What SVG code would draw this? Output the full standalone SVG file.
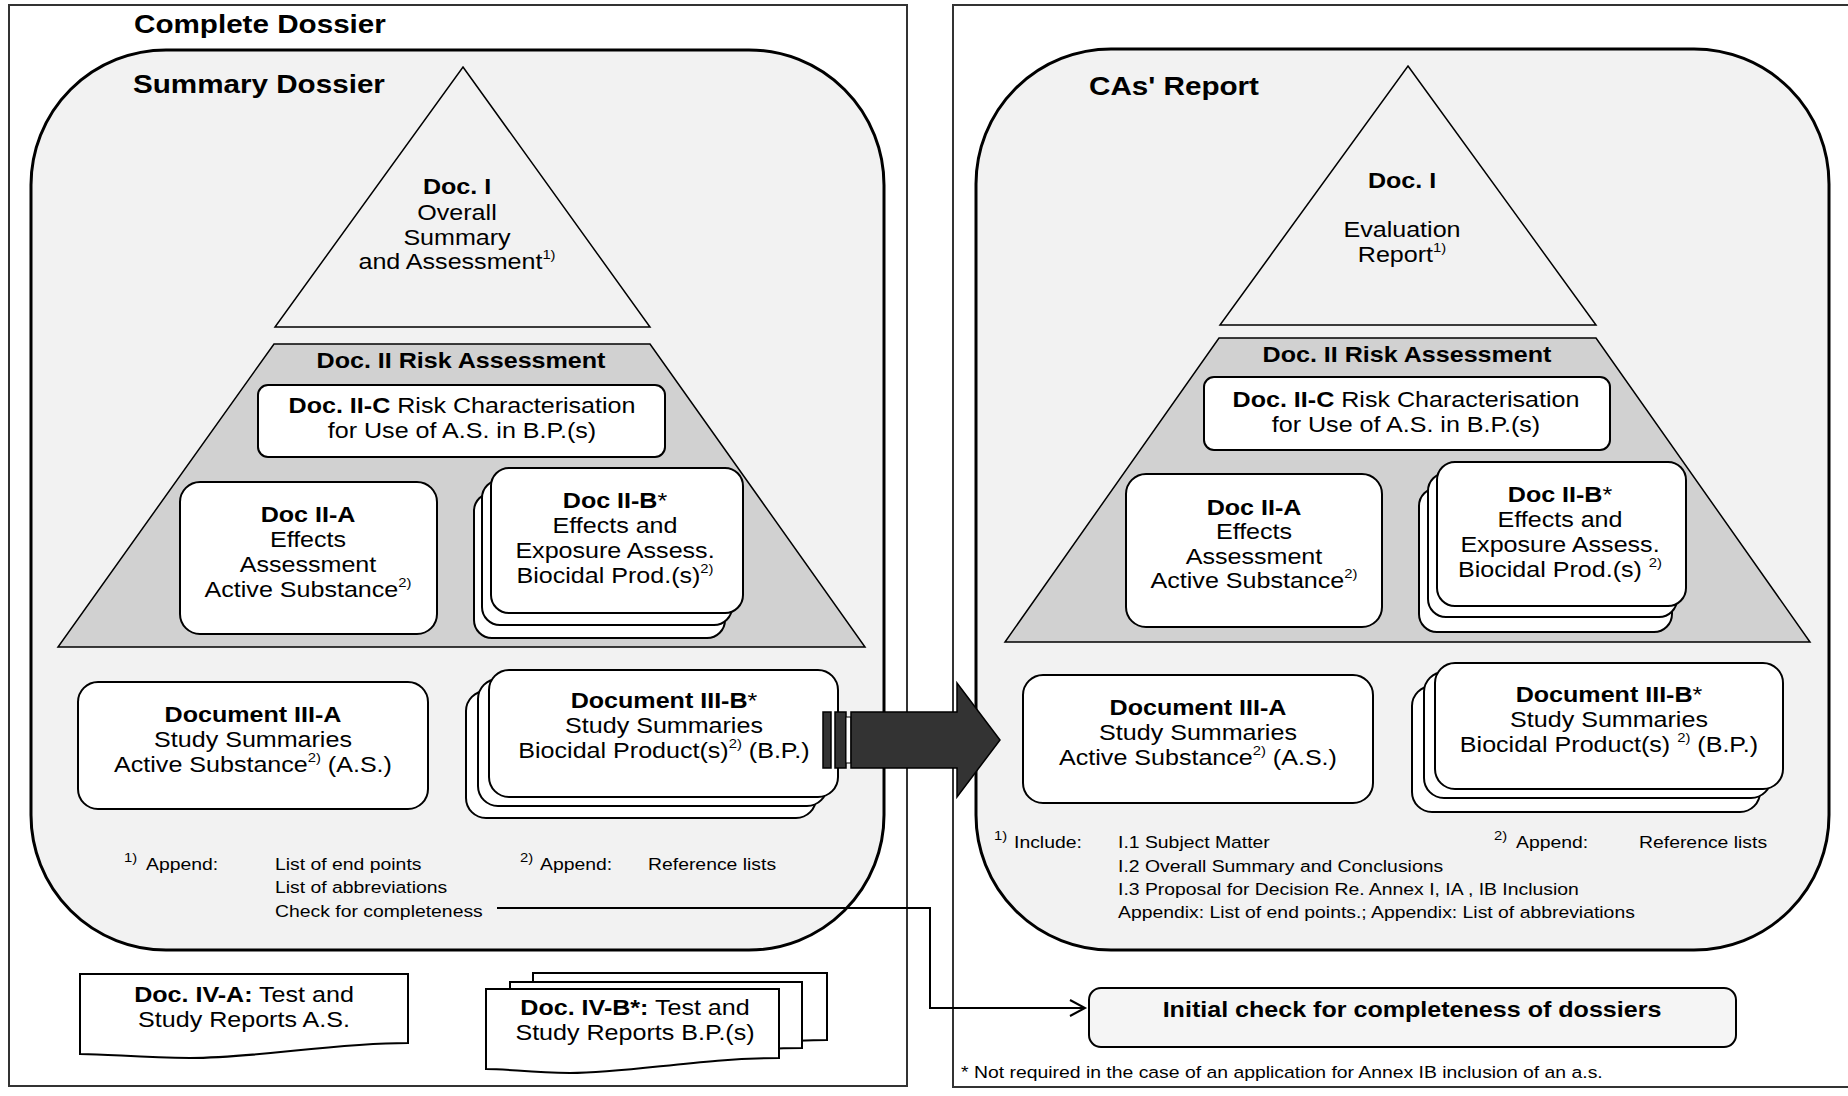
<svg xmlns="http://www.w3.org/2000/svg" width="1848" height="1096" viewBox="0 0 1848 1096">
<style>
.t{font-family:"Liberation Sans",Arial,Helvetica,sans-serif;font-size:22px;fill:#000}
.c{text-anchor:middle}
.b{font-weight:bold}
.h{font-size:26px;font-weight:bold}
.s{font-size:17px}
.sp{font-size:13px}
.sps{font-size:11px}
.outer{fill:#fff;stroke:#333;stroke-width:2}
.panel{fill:#f2f2f2;stroke:#000;stroke-width:3}
.tri{fill:#f2f2f2;stroke:#000;stroke-width:1.5}
.trap{fill:#d1d1d1;stroke:#000;stroke-width:1.5}
.box{fill:#fff;stroke:#000;stroke-width:2}
.doc{fill:#fff;stroke:#000;stroke-width:2}
.line{fill:none;stroke:#000;stroke-width:2}
.arr{fill:#333;stroke:#000;stroke-width:1.5}
</style>

<!-- Left: Complete Dossier -->
<g id="complete-dossier">
  <rect class="outer" x="9" y="5" width="898" height="1081"/>
  <text class="t h" transform="translate(134,33) scale(1.14,1)">Complete Dossier</text>
</g>
<g id="summary-dossier">
  <rect class="panel" x="31" y="50" width="853" height="900" rx="135" ry="135"/>
  <text class="t h" transform="translate(133,93) scale(1.14,1)">Summary Dossier</text>
</g>
<g id="left-doc-i">
  <polygon class="tri" points="463,67 650,327 275,327"/>
  <text class="t c b" transform="translate(457,194) scale(1.14,1)">Doc. I</text>
  <text class="t c" transform="translate(457,220) scale(1.14,1)">Overall</text>
  <text class="t c" transform="translate(457,245) scale(1.14,1)">Summary</text>
  <text class="t c" transform="translate(457,269) scale(1.14,1)">and Assessment<tspan class="sp" dy="-10">1)</tspan></text>
</g>
<g id="left-doc-ii">
  <polygon class="trap" points="274,344 650,344 865,647 58,647"/>
  <text class="t c b" transform="translate(461,368) scale(1.14,1)">Doc. II Risk Assessment</text>
</g>
<g id="left-doc-ii-c">
  <rect class="box" x="258" y="385" width="407" height="72" rx="10"/>
  <text class="t c" transform="translate(462,413) scale(1.14,1)"><tspan class="b">Doc. II-C</tspan> Risk Characterisation</text>
  <text class="t c" transform="translate(462,438) scale(1.14,1)">for Use of A.S. in B.P.(s)</text>
</g>
<g id="left-doc-ii-a">
  <rect class="box" x="180" y="482" width="257" height="152" rx="20"/>
  <text class="t c b" transform="translate(308,522) scale(1.14,1)">Doc II-A</text>
  <text class="t c" transform="translate(308,547) scale(1.14,1)">Effects</text>
  <text class="t c" transform="translate(308,572) scale(1.14,1)">Assessment</text>
  <text class="t c" transform="translate(308,597) scale(1.14,1)">Active Substance<tspan class="sp" dy="-10">2)</tspan></text>
</g>
<g id="left-doc-ii-b">
  <rect class="box" x="474" y="493" width="251" height="145" rx="18"/>
  <rect class="box" x="482" y="480" width="250" height="145" rx="18"/>
  <rect class="box" x="491" y="468" width="252" height="145" rx="18"/>
  <text class="t c" transform="translate(615,508) scale(1.14,1)"><tspan class="b">Doc II-B</tspan>*</text>
  <text class="t c" transform="translate(615,533) scale(1.14,1)">Effects and</text>
  <text class="t c" transform="translate(615,558) scale(1.14,1)">Exposure Assess.</text>
  <text class="t c" transform="translate(615,583) scale(1.14,1)">Biocidal Prod.(s)<tspan class="sp" dy="-10">2)</tspan></text>
</g>
<g id="left-doc-iii-a">
  <rect class="box" x="78" y="682" width="350" height="127" rx="20"/>
  <text class="t c b" transform="translate(253,722) scale(1.14,1)">Document III-A</text>
  <text class="t c" transform="translate(253,747) scale(1.14,1)">Study Summaries</text>
  <text class="t c" transform="translate(253,772) scale(1.14,1)">Active Substance<tspan class="sp" dy="-10">2)</tspan><tspan dy="10"> (A.S.)</tspan></text>
</g>
<g id="left-doc-iii-b">
  <rect class="box" x="466" y="691" width="350" height="127" rx="20"/>
  <rect class="box" x="478" y="679" width="349" height="127" rx="20"/>
  <rect class="box" x="489" y="670" width="349" height="127" rx="20"/>
  <text class="t c" transform="translate(664,708) scale(1.14,1)"><tspan class="b">Document III-B</tspan>*</text>
  <text class="t c" transform="translate(664,733) scale(1.14,1)">Study Summaries</text>
  <text class="t c" transform="translate(664,758) scale(1.14,1)">Biocidal Product(s)<tspan class="sp" dy="-10">2)</tspan><tspan dy="10"> (B.P.)</tspan></text>
</g>
<g id="left-notes">
  <text class="t sp" transform="translate(124,862) scale(1.14,1)">1)</text>
  <text class="t s" transform="translate(146,870) scale(1.14,1)">Append:</text>
  <text class="t s" transform="translate(275,870) scale(1.14,1)">List of end points</text>
  <text class="t s" transform="translate(275,893) scale(1.14,1)">List of abbreviations</text>
  <text class="t s" transform="translate(275,917) scale(1.14,1)">Check for completeness</text>
  <text class="t sp" transform="translate(520,862) scale(1.14,1)">2)</text>
  <text class="t s" transform="translate(540,870) scale(1.14,1)">Append:</text>
  <text class="t s" transform="translate(648,870) scale(1.14,1)">Reference lists</text>
</g>
<g id="left-doc-iv-a">
  <path class="doc" d="M80,974 H408 V1043 C330,1043 260,1058 190,1058 C140,1058 110,1054 80,1054 Z"/>
  <text class="t c" transform="translate(244,1002) scale(1.14,1)"><tspan class="b">Doc. IV-A:</tspan> Test and</text>
  <text class="t c" transform="translate(244,1027) scale(1.14,1)">Study Reports A.S.</text>
</g>
<g id="left-doc-iv-b">
  <path class="doc" d="M533,973 H827 V1040 C750,1040 680,1055 620,1055 C580,1055 560,1052 533,1052 Z"/>
  <path class="doc" d="M510,982 H802 V1048 C725,1048 655,1063 595,1063 C555,1063 535,1060 510,1060 Z"/>
  <path class="doc" d="M486,989 H779 V1058 C700,1058 630,1073 570,1073 C530,1073 510,1069 486,1069 Z"/>
  <text class="t c" transform="translate(635,1015) scale(1.14,1)"><tspan class="b">Doc. IV-B*:</tspan> Test and</text>
  <text class="t c" transform="translate(635,1040) scale(1.14,1)">Study Reports B.P.(s)</text>
</g>

<!-- Right: CAs' Report -->
<g id="right-frame">
  <rect class="outer" x="953" y="5" width="900" height="1082"/>
  <text class="t s" transform="translate(961,1078) scale(1.14,1)">* Not required in the case of an application for Annex IB inclusion of an a.s.</text>
</g>
<g id="cas-report">
  <rect class="panel" x="976" y="49" width="853" height="901" rx="135" ry="135"/>
  <text class="t h" transform="translate(1089,95) scale(1.14,1)">CAs' Report</text>
</g>
<g id="right-doc-i">
  <polygon class="tri" points="1408,66 1596,325 1220,325"/>
  <text class="t c b" transform="translate(1402,188) scale(1.14,1)">Doc. I</text>
  <text class="t c" transform="translate(1402,237) scale(1.14,1)">Evaluation</text>
  <text class="t c" transform="translate(1402,262) scale(1.14,1)">Report<tspan class="sp" dy="-10">1)</tspan></text>
</g>
<g id="right-doc-ii">
  <polygon class="trap" points="1219,338 1596,338 1810,642 1005,642"/>
  <text class="t c b" transform="translate(1407,362) scale(1.14,1)">Doc. II Risk Assessment</text>
</g>
<g id="right-doc-ii-c">
  <rect class="box" x="1204" y="377" width="406" height="73" rx="10"/>
  <text class="t c" transform="translate(1406,407) scale(1.14,1)"><tspan class="b">Doc. II-C</tspan> Risk Characterisation</text>
  <text class="t c" transform="translate(1406,432) scale(1.14,1)">for Use of A.S. in B.P.(s)</text>
</g>
<g id="right-doc-ii-a">
  <rect class="box" x="1126" y="474" width="256" height="153" rx="20"/>
  <text class="t c b" transform="translate(1254,515) scale(1.14,1)">Doc II-A</text>
  <text class="t c" transform="translate(1254,539) scale(1.14,1)">Effects</text>
  <text class="t c" transform="translate(1254,564) scale(1.14,1)">Assessment</text>
  <text class="t c" transform="translate(1254,588) scale(1.14,1)">Active Substance<tspan class="sp" dy="-10">2)</tspan></text>
</g>
<g id="right-doc-ii-b">
  <rect class="box" x="1419" y="488" width="253" height="144" rx="18"/>
  <rect class="box" x="1428" y="473" width="249" height="144" rx="18"/>
  <rect class="box" x="1437" y="462" width="249" height="144" rx="18"/>
  <text class="t c" transform="translate(1560,502) scale(1.14,1)"><tspan class="b">Doc II-B</tspan>*</text>
  <text class="t c" transform="translate(1560,527) scale(1.14,1)">Effects and</text>
  <text class="t c" transform="translate(1560,552) scale(1.14,1)">Exposure Assess.</text>
  <text class="t c" transform="translate(1560,577) scale(1.14,1)">Biocidal Prod.(s) <tspan class="sp" dy="-10">2)</tspan></text>
</g>
<g id="right-doc-iii-a">
  <rect class="box" x="1023" y="675" width="350" height="128" rx="20"/>
  <text class="t c b" transform="translate(1198,715) scale(1.14,1)">Document III-A</text>
  <text class="t c" transform="translate(1198,740) scale(1.14,1)">Study Summaries</text>
  <text class="t c" transform="translate(1198,765) scale(1.14,1)">Active Substance<tspan class="sp" dy="-10">2)</tspan><tspan dy="10"> (A.S.)</tspan></text>
</g>
<g id="right-doc-iii-b">
  <rect class="box" x="1412" y="686" width="348" height="126" rx="20"/>
  <rect class="box" x="1424" y="672" width="347" height="126" rx="20"/>
  <rect class="box" x="1435" y="663" width="348" height="126" rx="20"/>
  <text class="t c" transform="translate(1609,702) scale(1.14,1)"><tspan class="b">Document III-B</tspan>*</text>
  <text class="t c" transform="translate(1609,727) scale(1.14,1)">Study Summaries</text>
  <text class="t c" transform="translate(1609,752) scale(1.14,1)">Biocidal Product(s) <tspan class="sp" dy="-10">2)</tspan><tspan dy="10"> (B.P.)</tspan></text>
</g>
<g id="right-notes">
  <text class="t sp" transform="translate(994,840) scale(1.14,1)">1)</text>
  <text class="t s" transform="translate(1014,848) scale(1.14,1)">Include:</text>
  <text class="t s" transform="translate(1118,848) scale(1.14,1)">I.1 Subject Matter</text>
  <text class="t s" transform="translate(1118,872) scale(1.14,1)">I.2 Overall Summary and Conclusions</text>
  <text class="t s" transform="translate(1118,895) scale(1.14,1)">I.3 Proposal for Decision Re. Annex I, IA , IB Inclusion</text>
  <text class="t s" transform="translate(1118,918) scale(1.14,1)">Appendix: List of end points.; Appendix: List of abbreviations</text>
  <text class="t sp" transform="translate(1494,840) scale(1.14,1)">2)</text>
  <text class="t s" transform="translate(1516,848) scale(1.14,1)">Append:</text>
  <text class="t s" transform="translate(1639,848) scale(1.14,1)">Reference lists</text>
</g>
<g id="initial-check">
  <rect x="1089" y="988" width="647" height="59" rx="12" fill="#f5f5f5" stroke="#000" stroke-width="2"/>
  <text class="t c b" transform="translate(1412,1017) scale(1.14,1)">Initial check for completeness of dossiers</text>
</g>

<!-- Connectors -->
<g id="connectors">
  <polyline class="line" points="497,908 930,908 930,1008 1084,1008"/>
  <polyline class="line" points="1070,1000 1085,1008 1070,1016"/>
  <rect class="arr" x="823" y="712" width="8" height="56"/>
  <rect class="arr" x="835" y="712" width="11" height="56"/>
  <rect x="846" y="717" width="5" height="46" fill="#fff" stroke="#000" stroke-width="1"/>
  <polygon class="arr" points="851,712 957,712 957,683 1000,740 957,797 957,768 851,768"/>
</g>
</svg>
